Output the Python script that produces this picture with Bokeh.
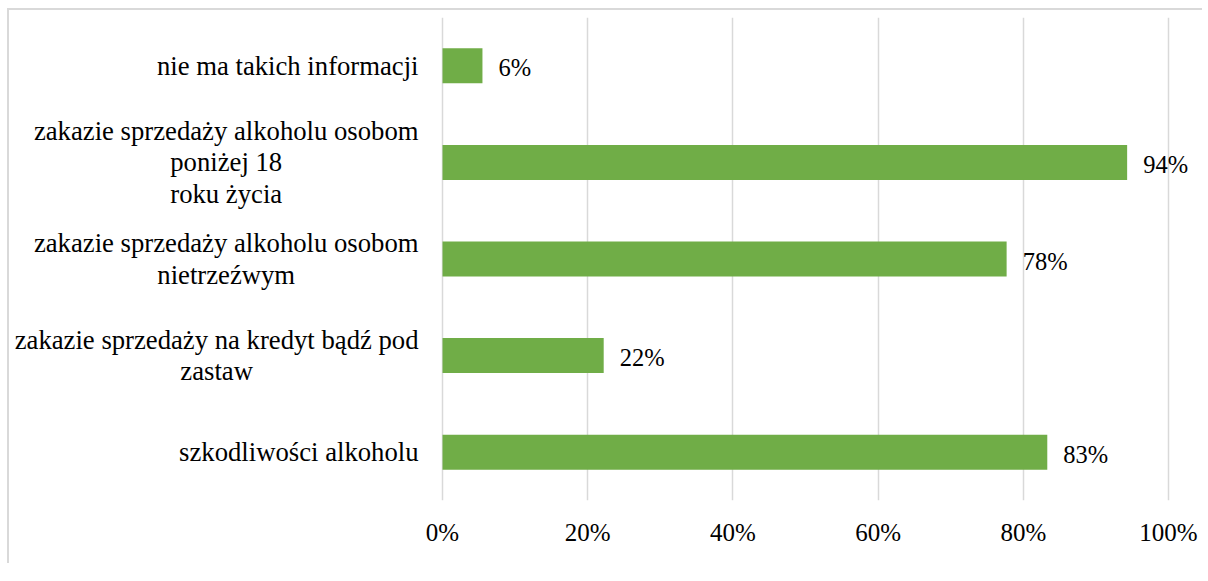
from bokeh.plotting import figure
from bokeh.models import FactorRange, Range1d, FixedTicker, NumeralTickFormatter, ColumnDataSource
from bokeh.core.properties import value
from bokeh.embed import file_html
from bokeh.resources import INLINE

categories = [
    "nie ma takich informacji",
    "zakazie sprzedaży alkoholu osobom\nponiżej 18\nroku życia",
    "zakazie sprzedaży alkoholu osobom\nnietrzeźwym",
    "zakazie sprzedaży na kredyt bądź pod\nzastaw",
    "szkodliwości alkoholu",
]
values = [0.055, 0.943, 0.777, 0.222, 0.833]
value_labels = ["6%", "94%", "78%", "22%", "83%"]
x_ticks = [0, 0.2, 0.4, 0.6, 0.8, 1.0]

FONT = "Liberation Serif"

src = ColumnDataSource(dict(cat=categories, val=values, lab=value_labels,
                            zero=[0] * len(categories)))

p = figure(
    width=1195, height=555,
    y_range=FactorRange(factors=list(reversed(categories)), range_padding=0),
    x_range=Range1d(-0.5937, 1.0468),
    output_backend="svg", toolbar_location=None,
    min_border_left=2, min_border_right=2, min_border_top=7, min_border_bottom=65,
)
p.styles = {"border-left": "2px solid #d9d9d9", "border-top": "2px solid #d9d9d9",
            "margin-top": "8px", "margin-left": "7px"}
p.outline_line_color = None
p.background_fill_color = "white"
p.border_fill_color = "white"

p.hbar(y="cat", right="val", left=0, height=0.362, source=src, fill_color="#70AD47", line_color=None)
p.text(x="val", y="cat", text="lab", source=src, x_offset=16, y_offset=2, text_baseline="middle",
       text_align="left", text_font=value(FONT), text_font_size="24.5px", text_color="black")
# category labels, right-anchored at the 0 line, lines centered within the block
p.text(x="zero", y="cat", text="cat", source=src, x_offset=-24, anchor="center_right",
       text_align="center", text_baseline="middle", text_line_height=1.04,
       text_font=value(FONT), text_font_size="26.7px", text_color="black")

p.xaxis.ticker = FixedTicker(ticks=x_ticks)
p.xaxis.formatter = NumeralTickFormatter(format="0%")
p.xaxis.axis_line_color = None
p.xaxis.major_tick_line_color = None
p.xaxis.minor_tick_line_color = None
p.xaxis.major_tick_out = 0
p.xaxis.major_label_standoff = 18
p.xaxis.major_label_text_font = FONT
p.xaxis.major_label_text_font_size = "25px"
p.xaxis.major_label_text_color = "black"

p.yaxis.visible = False

p.xgrid.grid_line_color = "#d9d9d9"
p.xgrid.grid_line_width = 1.5
p.ygrid.grid_line_color = None

open("out.html", "w").write(file_html(p, INLINE))
